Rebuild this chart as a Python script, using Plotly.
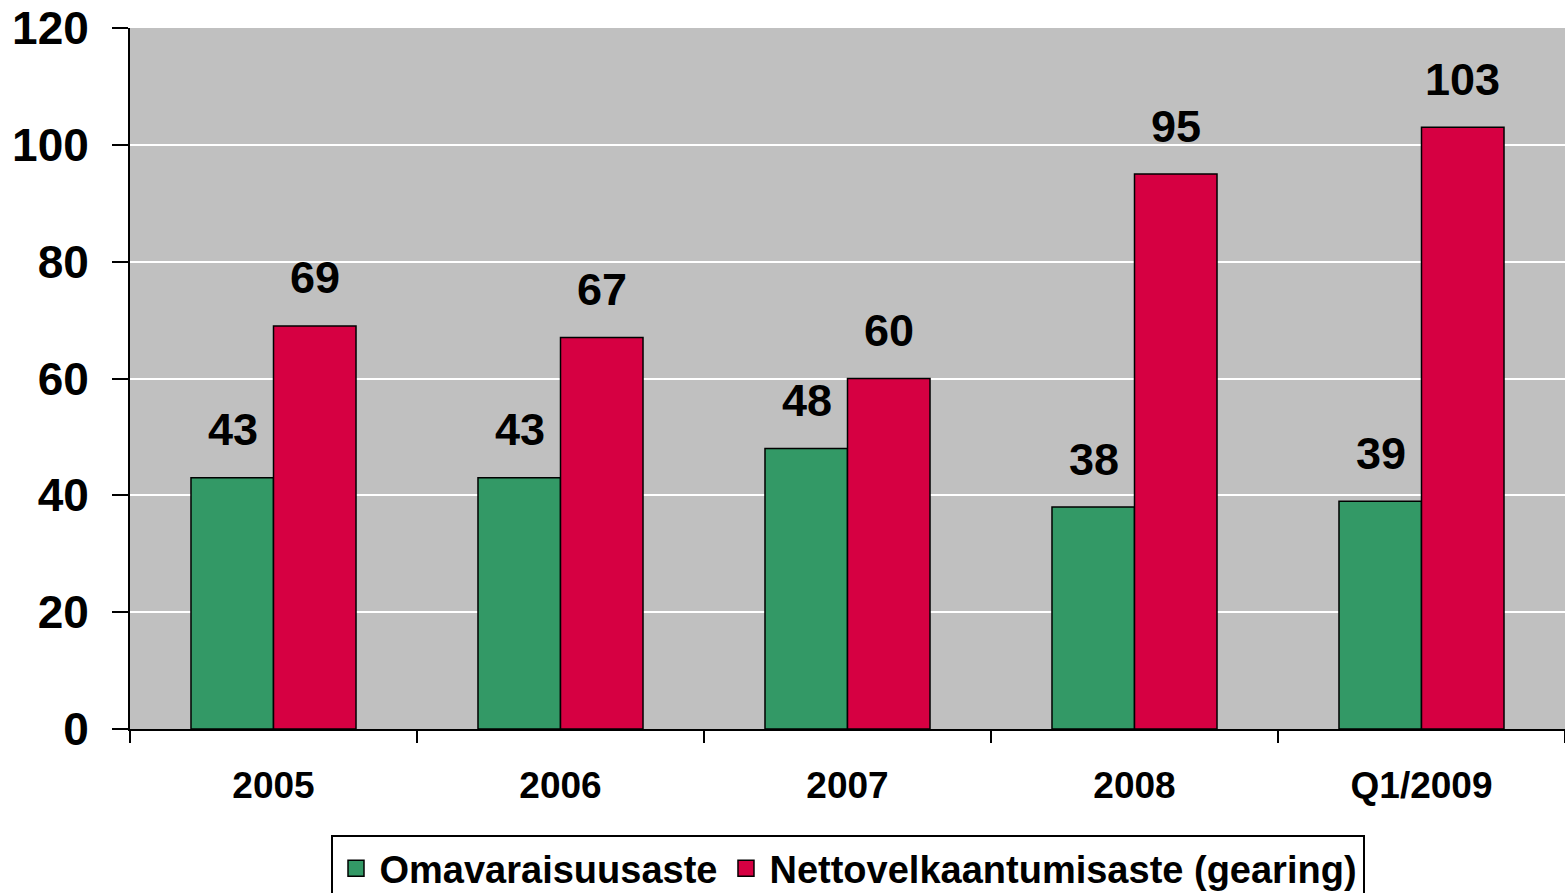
import plotly.graph_objects as go

categories = ["2005", "2006", "2007", "2008", "Q1/2009"]
omavaraisuusaste = [43, 43, 48, 38, 39]
gearing = [69, 67, 60, 95, 103]
series_names = ["Omavaraisuusaste", "Nettovelkaantumisaste (gearing)"]
colors = ["#339966", "#D60042"]
y_ticks = [0, 20, 40, 60, 80, 100, 120]

FONT = "Liberation Sans, Arial, sans-serif"

fig = go.Figure()
for name, vals, col in zip(series_names, [omavaraisuusaste, gearing], colors):
    fig.add_trace(go.Bar(
        x=categories, y=vals, name=name, showlegend=False,
        marker=dict(color=col, line=dict(color="black", width=1.5)),
    ))
for name, col in zip(series_names, colors):
    # legend proxies with larger square symbols (drawn on a hidden axis pair)
    fig.add_trace(go.Scatter(
        x=[0], y=[None], mode="markers", name=name, xaxis="x2", yaxis="y2",
        marker=dict(symbol="square", size=16, color=col,
                    line=dict(color="black", width=1.5)),
        hoverinfo="skip",
    ))

annotations = []
for vals, shift in [(omavaraisuusaste, -41), (gearing, 41)]:
    for i, v in enumerate(vals):
        annotations.append(dict(
            x=i, y=v, xref="x", yref="y", text=str(v), showarrow=False,
            xshift=shift, yshift=48, yanchor="middle", xanchor="center",
            font=dict(family=FONT, size=45, color="black", weight="bold"),
        ))

fig.update_layout(
    width=1565, height=893,
    margin=dict(l=130, r=0, t=28, b=164, autoexpand=False),
    paper_bgcolor="white", plot_bgcolor="#C0C0C0",
    font=dict(family=FONT, color="black", weight="bold"),
    barmode="group", bargap=0.425, bargroupgap=0,
    annotations=annotations,
    showlegend=True,
    legend=dict(
        orientation="h", x=0.5, xanchor="center",
        yref="container", y=(893 - 835) / 893, yanchor="top",
        bordercolor="black", borderwidth=2, bgcolor="white",
        font=dict(family=FONT, size=38, weight="bold", color="black"),
        itemwidth=37, tracegroupgap=0,
    ),
    xaxis2=dict(overlaying="x", visible=False, range=[0, 1]),
    yaxis2=dict(overlaying="y", visible=False, range=[0, 1]),
)
fig.update_layout(xaxis=dict(
    type="category", categoryorder="array", categoryarray=categories,
    range=[-0.5, len(categories) - 0.5],
    tickson="boundaries", ticks="outside", ticklen=12,
    tickwidth=1.5, tickcolor="black", showline=True, linecolor="black",
    linewidth=2, showgrid=False, automargin=False, tickangle=0,
    tickfont=dict(family=FONT, size=37, weight="bold"),
    ticklabelstandoff=23,
))
fig.update_layout(yaxis=dict(
    range=[0, 120], tickvals=y_ticks, ticks="outside", ticklen=16,
    tickwidth=2, tickcolor="black", showline=True, linecolor="black",
    linewidth=2, showgrid=True, gridcolor="white", gridwidth=2,
    zeroline=False, automargin=False,
    tickfont=dict(family=FONT, size=46, weight="bold"),
    ticklabelstandoff=14,
))

fig.write_html(
    "out.html",
    config={"displayModeBar": False},
    post_script="document.body.style.margin='0';document.body.style.overflow='hidden';",
)
